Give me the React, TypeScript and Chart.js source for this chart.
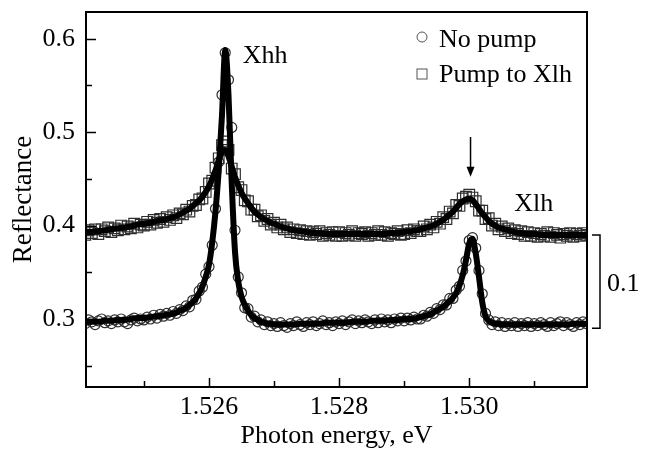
import React, { useEffect, useRef } from "react";
import { Chart, registerables } from "chart.js";

Chart.register(...registerables);

const FONT = "'Liberation Serif', 'Times New Roman', Times, serif";

// Measured data: photon energy grid (eV)
const dataEnergy = [
  1.5241, 1.52415, 1.5242, 1.52425, 1.5243, 1.52435, 1.5244, 1.52445, 1.5245, 1.52455, 1.5246, 1.52465, 1.5247,
  1.52475, 1.5248, 1.52485, 1.5249, 1.52495,
  1.525, 1.52505, 1.5251, 1.52515, 1.5252, 1.52525, 1.5253, 1.52535, 1.5254, 1.52545, 1.5255, 1.52555, 1.5256,
  1.52565, 1.5257, 1.52575, 1.5258, 1.52585, 1.5259, 1.52595,
  1.526, 1.52605, 1.5261, 1.52615, 1.5262, 1.52625, 1.5263, 1.52635, 1.5264, 1.52645, 1.5265, 1.52655, 1.5266,
  1.52665, 1.5267, 1.52675, 1.5268, 1.52685, 1.5269, 1.52695,
  1.527, 1.52705, 1.5271, 1.52715, 1.5272, 1.52725, 1.5273, 1.52735, 1.5274, 1.52745, 1.5275, 1.52755, 1.5276,
  1.52765, 1.5277, 1.52775, 1.5278, 1.52785, 1.5279, 1.52795,
  1.528, 1.52805, 1.5281, 1.52815, 1.5282, 1.52825, 1.5283, 1.52835, 1.5284, 1.52845, 1.5285, 1.52855, 1.5286,
  1.52865, 1.5287, 1.52875, 1.5288, 1.52885, 1.5289, 1.52895,
  1.529, 1.52905, 1.5291, 1.52915, 1.5292, 1.52925, 1.5293, 1.52935, 1.5294, 1.52945, 1.5295, 1.52955, 1.5296,
  1.52965, 1.5297, 1.52975, 1.5298, 1.52985, 1.5299, 1.52995,
  1.53, 1.53005, 1.5301, 1.53015, 1.5302, 1.53025, 1.5303, 1.53035, 1.5304, 1.53045, 1.5305, 1.53055, 1.5306,
  1.53065, 1.5307, 1.53075, 1.5308, 1.53085, 1.5309, 1.53095,
  1.531, 1.53105, 1.5311, 1.53115, 1.5312, 1.53125, 1.5313, 1.53135, 1.5314, 1.53145, 1.5315, 1.53155, 1.5316,
  1.53165, 1.5317, 1.53175, 1.5318,
];

// Measured reflectance, no pump (circles)
const noPumpData = [
  0.295, 0.299, 0.297, 0.294, 0.298, 0.3, 0.296, 0.298, 0.295, 0.299, 0.297, 0.3, 0.297, 0.295, 0.299, 0.301,
  0.298, 0.3,
  0.299, 0.302, 0.3, 0.304, 0.301, 0.305, 0.303, 0.306, 0.304, 0.308, 0.306, 0.31, 0.309, 0.314, 0.313, 0.32,
  0.321, 0.33, 0.334, 0.348,
  0.356, 0.379, 0.418, 0.468, 0.54, 0.585, 0.556, 0.505, 0.395, 0.345, 0.328, 0.312, 0.311, 0.302, 0.303, 0.297,
  0.299, 0.294, 0.297, 0.293,
  0.295, 0.292, 0.296, 0.293, 0.291, 0.295, 0.293, 0.297, 0.294, 0.292, 0.296, 0.294, 0.297, 0.293, 0.295, 0.298,
  0.294, 0.296, 0.293, 0.297,
  0.295, 0.298, 0.294, 0.297, 0.299, 0.295, 0.298, 0.296, 0.299, 0.297, 0.295, 0.299, 0.296, 0.3, 0.297, 0.299,
  0.296, 0.3, 0.298, 0.301,
  0.298, 0.301, 0.299, 0.302, 0.3, 0.3, 0.304, 0.303, 0.307, 0.306, 0.311, 0.31, 0.315, 0.315, 0.322, 0.322,
  0.331, 0.335, 0.352, 0.362,
  0.384, 0.387, 0.376, 0.352, 0.327, 0.306, 0.299, 0.294, 0.297, 0.293, 0.296, 0.292, 0.295, 0.293, 0.296, 0.292,
  0.295, 0.293, 0.296, 0.292,
  0.295, 0.293, 0.296, 0.294, 0.292, 0.296, 0.293, 0.295, 0.297, 0.293, 0.296, 0.294, 0.292, 0.296, 0.294, 0.297,
  0.295,
];

// Measured reflectance, pump to Xlh (squares)
const pumpData = [
  0.39, 0.395, 0.392, 0.396, 0.391, 0.396, 0.394, 0.398, 0.393, 0.397, 0.395, 0.4, 0.396, 0.399, 0.397, 0.402,
  0.398, 0.401,
  0.4, 0.404, 0.401, 0.406, 0.403, 0.407, 0.404, 0.409, 0.406, 0.411, 0.408, 0.413, 0.412, 0.417, 0.415, 0.421,
  0.422, 0.428, 0.429, 0.436,
  0.445, 0.448, 0.462, 0.472, 0.486, 0.49, 0.481, 0.461, 0.455, 0.441, 0.438, 0.427, 0.426, 0.417, 0.417, 0.41,
  0.411, 0.405, 0.407, 0.401,
  0.403, 0.398, 0.401, 0.396, 0.398, 0.393, 0.396, 0.392, 0.395, 0.391, 0.394, 0.39, 0.393, 0.391, 0.394, 0.389,
  0.392, 0.39, 0.393, 0.389,
  0.393, 0.389, 0.392, 0.39, 0.394, 0.389, 0.392, 0.391, 0.393, 0.389, 0.392, 0.39, 0.394, 0.39, 0.393, 0.389,
  0.392, 0.391, 0.394, 0.39,
  0.391, 0.395, 0.392, 0.396, 0.394, 0.394, 0.399, 0.396, 0.401, 0.398, 0.404, 0.402, 0.409, 0.407, 0.415, 0.413,
  0.422, 0.421, 0.429, 0.431,
  0.433, 0.43, 0.426, 0.416, 0.416, 0.407, 0.408, 0.4, 0.402, 0.396, 0.399, 0.394, 0.397, 0.392, 0.395, 0.391,
  0.394, 0.389, 0.393, 0.389,
  0.392, 0.388, 0.391, 0.389, 0.393, 0.388, 0.392, 0.39, 0.387, 0.391, 0.389, 0.392, 0.388, 0.391, 0.389, 0.392,
  0.39,
];

// Fitted curves (thick black lines): energy grid and values
const fitEnergy = [
  1.5241, 1.5242, 1.5243, 1.5244, 1.5245, 1.5246, 1.5247, 1.5248, 1.5249, 1.525, 1.5251, 1.5252, 1.5253, 1.5254,
  1.52545, 1.5255, 1.52555, 1.5256, 1.52565, 1.5257, 1.52575, 1.5258, 1.52585, 1.5259, 1.52595, 1.526, 1.52605,
  1.5261, 1.52615, 1.5262, 1.52625, 1.5263, 1.52635, 1.5264, 1.52645, 1.5265, 1.52655, 1.5266, 1.52665, 1.5267,
  1.52675, 1.5268, 1.52685, 1.5269, 1.52695, 1.527,
  1.5271, 1.5272, 1.5273, 1.5274, 1.5275, 1.5276, 1.5277, 1.5278, 1.5279, 1.528, 1.5281, 1.5282, 1.5283, 1.5284,
  1.5285, 1.5286, 1.5287, 1.5288, 1.5289, 1.529, 1.5291, 1.5292,
  1.52925, 1.5293, 1.52935, 1.5294, 1.52945, 1.5295, 1.52955, 1.5296, 1.52965, 1.5297, 1.52975, 1.5298, 1.52985,
  1.5299, 1.52995, 1.53, 1.53005, 1.5301, 1.53015, 1.5302, 1.53025, 1.5303, 1.53035, 1.5304, 1.53045, 1.5305,
  1.53055, 1.5306,
  1.5307, 1.5308, 1.5309, 1.531, 1.5311, 1.5312, 1.5313, 1.5314, 1.5315, 1.5316, 1.5317, 1.5318,
];

const noPumpFit = [
  0.297, 0.297, 0.297, 0.298, 0.298, 0.299, 0.299, 0.3, 0.301, 0.301, 0.302, 0.303, 0.304, 0.305,
  0.306, 0.307, 0.309, 0.31, 0.312, 0.315, 0.318, 0.322, 0.328, 0.335, 0.345, 0.358, 0.382, 0.415, 0.46, 0.518,
  0.588, 0.54, 0.445, 0.372, 0.34, 0.324, 0.315, 0.309, 0.304, 0.301, 0.299, 0.297, 0.296, 0.295, 0.295, 0.294,
  0.294, 0.294, 0.294, 0.295, 0.295, 0.295, 0.295, 0.296, 0.296, 0.296, 0.296, 0.297, 0.297, 0.297, 0.298, 0.298,
  0.298, 0.299, 0.299, 0.3, 0.3, 0.301,
  0.302, 0.303, 0.304, 0.305, 0.307, 0.309, 0.311, 0.313, 0.316, 0.319, 0.323, 0.328, 0.336, 0.347, 0.363, 0.381,
  0.386, 0.37, 0.345, 0.318, 0.303, 0.298, 0.296, 0.295, 0.295, 0.294, 0.294, 0.294,
  0.294, 0.294, 0.294, 0.294, 0.294, 0.294, 0.294, 0.294, 0.294, 0.295, 0.295, 0.295,
];

const pumpFit = [
  0.393, 0.393, 0.394, 0.395, 0.396, 0.397, 0.398, 0.399, 0.401, 0.402, 0.403, 0.405, 0.406, 0.408,
  0.409, 0.41, 0.412, 0.414, 0.416, 0.418, 0.421, 0.424, 0.427, 0.431, 0.436, 0.442, 0.45, 0.459, 0.47, 0.479,
  0.481, 0.474, 0.463, 0.452, 0.443, 0.435, 0.429, 0.424, 0.419, 0.415, 0.412, 0.409, 0.407, 0.405, 0.403, 0.402,
  0.399, 0.397, 0.395, 0.394, 0.393, 0.392, 0.392, 0.391, 0.391, 0.391, 0.391, 0.391, 0.391, 0.391, 0.391, 0.391,
  0.391, 0.392, 0.392, 0.393, 0.394, 0.395,
  0.396, 0.397, 0.398, 0.399, 0.4, 0.402, 0.404, 0.406, 0.409, 0.412, 0.415, 0.419, 0.423, 0.426, 0.428, 0.429,
  0.427, 0.423, 0.418, 0.413, 0.409, 0.405, 0.402, 0.4, 0.398, 0.397, 0.396, 0.395,
  0.393, 0.392, 0.391, 0.391, 0.39, 0.39, 0.39, 0.39, 0.39, 0.39, 0.39, 0.39,
];

// Axis ticks
const xMajorTicks = [1.526, 1.528, 1.53];
const xMinorTicks = [1.525, 1.527, 1.529, 1.531];
const yMajorTicks = [0.3, 0.4, 0.5, 0.6];
const yMinorTicks = [0.25, 0.35, 0.45, 0.55];
const xRange = [1.52411, 1.53181];
const yRange = [0.2272, 0.6286];

// Labels
const xTitle = "Photon energy, eV";
const yTitle = "Reflectance";
const legendLabels = ["No pump", "Pump to Xlh"];
const peakLabels = [
  { text: "Xhh", x: 1.52652, y: 0.5743 },
  { text: "Xlh", x: 1.53069, y: 0.4156 },
];
const arrowMark = { x: 1.53002, from: 0.4948, to: 0.4523 };
const scaleBar = { from: 0.29, to: 0.39, label: "0.1", labelY: 0.33 };

const MARKER = "#2e2e2e";

const overlayPlugin = {
  id: "overlay",
  afterDraw(chart: any) {
    const { ctx, chartArea: a, scales } = chart;
    const xs = scales.x;
    const ys = scales.y;
    ctx.save();
    // frame
    ctx.strokeStyle = "#000";
    ctx.lineWidth = 2;
    ctx.strokeRect(a.left, a.top, a.right - a.left, a.bottom - a.top);
    // inward ticks
    ctx.lineWidth = 1.5;
    ctx.beginPath();
    for (const v of yMajorTicks) {
      const p = Math.round(ys.getPixelForValue(v)) + 0.5;
      ctx.moveTo(a.left, p);
      ctx.lineTo(a.left + 10, p);
    }
    for (const v of yMinorTicks) {
      const p = Math.round(ys.getPixelForValue(v)) + 0.5;
      ctx.moveTo(a.left, p);
      ctx.lineTo(a.left + 6, p);
    }
    for (const v of xMajorTicks) {
      const p = Math.round(xs.getPixelForValue(v)) + 0.5;
      ctx.moveTo(p, a.bottom);
      ctx.lineTo(p, a.bottom - 9);
    }
    for (const v of xMinorTicks) {
      const p = Math.round(xs.getPixelForValue(v)) + 0.5;
      ctx.moveTo(p, a.bottom);
      ctx.lineTo(p, a.bottom - 6);
    }
    ctx.stroke();

    ctx.fillStyle = "#000";
    ctx.font = `26px ${FONT}`;
    ctx.textBaseline = "alphabetic";
    ctx.textAlign = "left";
    // peak labels
    for (const l of peakLabels) {
      ctx.fillText(l.text, xs.getPixelForValue(l.x), ys.getPixelForValue(l.y));
    }
    // arrow
    const ax = xs.getPixelForValue(arrowMark.x);
    const ay0 = ys.getPixelForValue(arrowMark.from);
    const ay1 = ys.getPixelForValue(arrowMark.to);
    ctx.lineWidth = 1.5;
    ctx.beginPath();
    ctx.moveTo(ax, ay0);
    ctx.lineTo(ax, ay1 - 8);
    ctx.stroke();
    ctx.beginPath();
    ctx.moveTo(ax - 4, ay1 - 10);
    ctx.lineTo(ax + 4, ay1 - 10);
    ctx.lineTo(ax, ay1);
    ctx.closePath();
    ctx.fill();

    // scale bar bracket
    const b0 = ys.getPixelForValue(scaleBar.to);
    const b1 = ys.getPixelForValue(scaleBar.from);
    const bx = a.right + 13;
    ctx.lineWidth = 1.5;
    ctx.beginPath();
    ctx.moveTo(a.right + 5, b0);
    ctx.lineTo(bx, b0);
    ctx.lineTo(bx, b1);
    ctx.lineTo(a.right + 5, b1);
    ctx.stroke();
    ctx.fillText(scaleBar.label, a.right + 20, ys.getPixelForValue(scaleBar.labelY));

    // legend
    const mx = a.right - 165;
    const tx = mx + 17;
    ctx.strokeStyle = "#555";
    ctx.lineWidth = 1;
    ctx.beginPath();
    ctx.arc(mx, a.top + 25, 5, 0, Math.PI * 2);
    ctx.stroke();
    ctx.strokeRect(mx - 5, a.top + 57, 10, 10);
    ctx.fillStyle = "#000";
    ctx.fillText(legendLabels[0], tx, a.top + 34.7);
    ctx.fillText(legendLabels[1], tx, a.top + 69.7);
    ctx.restore();
  },
};

export default function App() {
  const ref = useRef<HTMLCanvasElement | null>(null);
  useEffect(() => {
    document.body.style.margin = "0";
    const canvas = ref.current;
    if (!canvas) return;
    const pts = (xs: number[], ys: number[]) => xs.map((x, i) => ({ x, y: ys[i] }));
    const tickFont = { family: FONT, size: 26 };
    const chart = new Chart(canvas, {
      type: "scatter",
      data: {
        datasets: [
          {
            label: "No pump fit",
            data: pts(fitEnergy, noPumpFit),
            showLine: true,
            borderColor: "#000",
            borderWidth: 6,
            pointRadius: 0,
            cubicInterpolationMode: "monotone",
            order: 0,
            clip: 0,
          },
          {
            label: "Pump fit",
            data: pts(fitEnergy, pumpFit),
            showLine: true,
            borderColor: "#000",
            borderWidth: 6,
            pointRadius: 0,
            cubicInterpolationMode: "monotone",
            order: 0,
            clip: 0,
          },
          {
            label: legendLabels[1],
            data: pts(dataEnergy, pumpData),
            showLine: false,
            pointStyle: "rect",
            pointRadius: 7.5,
            pointBorderWidth: 1.2,
            pointBorderColor: MARKER,
            pointBackgroundColor: "rgba(0,0,0,0)",
            order: 1,
            clip: 0,
          },
          {
            label: legendLabels[0],
            data: pts(dataEnergy, noPumpData),
            showLine: false,
            pointStyle: "circle",
            pointRadius: 5,
            pointBorderWidth: 1.2,
            pointBorderColor: MARKER,
            pointBackgroundColor: "rgba(0,0,0,0)",
            order: 2,
            clip: 0,
          },
        ] as any,
      },
      options: {
        animation: false,
        responsive: false,
        devicePixelRatio: 1,
        events: [],
        layout: { padding: { left: 0, top: 12, right: 62, bottom: 0 } },
        plugins: { legend: { display: false }, tooltip: { enabled: false } },
        scales: {
          x: {
            type: "linear",
            min: xRange[0],
            max: xRange[1],
            afterBuildTicks: (s: any) => {
              s.ticks = xMajorTicks.map((v) => ({ value: v }));
            },
            afterFit: (s: any) => {
              s.height = 63;
              s.paddingLeft = 0;
              s.paddingRight = 0;
            },
            grid: { display: false, drawTicks: false },
            border: { display: false },
            ticks: {
              callback: (v: any) => Number(v).toFixed(3),
              font: tickFont,
              color: "#000",
              padding: 5,
              maxRotation: 0,
              autoSkip: false,
            },
            title: {
              display: true,
              text: xTitle,
              font: tickFont,
              color: "#000",
              padding: { top: 0, bottom: -1.8 },
            },
          },
          y: {
            type: "linear",
            min: yRange[0],
            max: yRange[1],
            afterBuildTicks: (s: any) => {
              s.ticks = yMajorTicks.map((v) => ({ value: v }));
            },
            afterFit: (s: any) => {
              s.width = 86;
              s.paddingTop = 0;
              s.paddingBottom = 0;
            },
            grid: { display: false, drawTicks: false },
            border: { display: false },
            ticks: {
              callback: (v: any) => Number(v).toFixed(1),
              font: tickFont,
              color: "#000",
              padding: 11,
              autoSkip: false,
            },
            title: {
              display: true,
              text: yTitle,
              font: { family: FONT, size: 27 },
              color: "#000",
              padding: { top: 8.2, bottom: 0 },
            },
          },
        },
      } as any,
      plugins: [overlayPlugin],
    });
    return () => chart.destroy();
  }, []);
  return <canvas ref={ref} width={649} height={450} style={{ display: "block" }} />;
}
